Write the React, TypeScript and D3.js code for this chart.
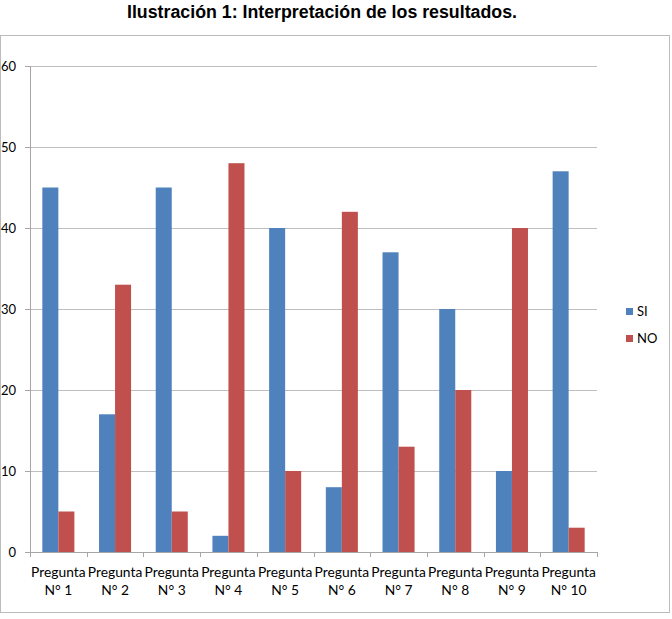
import React from "react";
import * as d3 from "d3";

const categories = ["Pregunta N° 1", "Pregunta N° 2", "Pregunta N° 3", "Pregunta N° 4", "Pregunta N° 5", "Pregunta N° 6", "Pregunta N° 7", "Pregunta N° 8", "Pregunta N° 9", "Pregunta N° 10"];
const siValues = [45, 17, 45, 2, 40, 8, 37, 30, 10, 47];
const noValues = [5, 33, 5, 48, 10, 42, 13, 20, 40, 3];
const seriesNames = ["SI", "NO"];
const seriesColors = ["#4F81BD", "#C0504D"];
const yTicks = [0, 10, 20, 30, 40, 50, 60];
const title = "Ilustración 1: Interpretación de los resultados.";

export default function App() {
  const W = 672, H = 619;
  const left = 30, right = 597, top = 66, bottom = 552;
  const x = d3.scaleBand<string>().domain(categories).range([left, right]).paddingInner(0).paddingOuter(0);
  const y = d3.scaleLinear().domain([0, 60]).range([bottom, top]);
  const inner = d3.scaleBand<string>().domain(seriesNames).range([0, x.bandwidth()]).paddingInner(0).paddingOuter(0.77);
  const series = [siValues, noValues];
  const font = "Lato, 'Open Sans', sans-serif";
  return (
    <svg width={W} height={H} style={{ position: "absolute", left: 0, top: 0, background: "#fff" }}>
      <text x={127} y={18} textLength={390} lengthAdjust="spacingAndGlyphs" fontFamily="'Liberation Sans', Arial, sans-serif" fontWeight="bold" fontSize={18} fill="#000">{title}</text>
      <rect x={0.5} y={35.5} width={669} height={577} fill="none" stroke="#bcbcbc" strokeWidth={1} />
      {yTicks.map((t) => (
        <g key={t}>
          {t > 0 && <line x1={left} x2={right} y1={Math.round(y(t)) + 0.5} y2={Math.round(y(t)) + 0.5} stroke="#bfbfbf" strokeWidth={1} />}
          <line x1={25} x2={left} y1={Math.round(y(t)) + 0.5} y2={Math.round(y(t)) + 0.5} stroke="#a6a6a6" />
          <text x={16} y={y(t) + 4.5} textAnchor="end" fontFamily={font} fontSize={13} fill="#000">{t}</text>
        </g>
      ))}
      {categories.map((c, i) => (
        <g key={c}>
          {series.map((vals, s) => (
            <rect key={s} x={x(c)! + inner(seriesNames[s])!} y={y(vals[i])} width={inner.bandwidth()} height={bottom - y(vals[i])} fill={seriesColors[s]} />
          ))}
        </g>
      ))}
      <line x1={left + 0.5} x2={left + 0.5} y1={top} y2={bottom} stroke="#a6a6a6" />
      <line x1={left} x2={right} y1={bottom + 0.5} y2={bottom + 0.5} stroke="#a6a6a6" />
      {d3.range(categories.length + 1).map((i) => {
        const xx = Math.round(left + i * x.step()) + 0.5;
        return <line key={i} x1={xx} x2={xx} y1={bottom} y2={bottom + 5} stroke="#a6a6a6" />;
      })}
      {categories.map((c) => {
        const parts = c.split(" N");
        const cx = x(c)! + x.bandwidth() / 2;
        return (
          <text key={c} textAnchor="middle" fontFamily={font} fontSize={13.8} fill="#000">
            <tspan x={cx} y={577}>{parts[0]}</tspan>
            <tspan x={cx} y={595}>{"N" + parts[1]}</tspan>
          </text>
        );
      })}
      {seriesNames.map((n, s) => (
        <g key={n}>
          <rect x={626} y={308 + s * 27} width={7} height={7} fill={seriesColors[s]} />
          <text x={637} y={316 + s * 27} fontFamily={font} fontSize={13} fill="#000">{n}</text>
        </g>
      ))}
    </svg>
  );
}
